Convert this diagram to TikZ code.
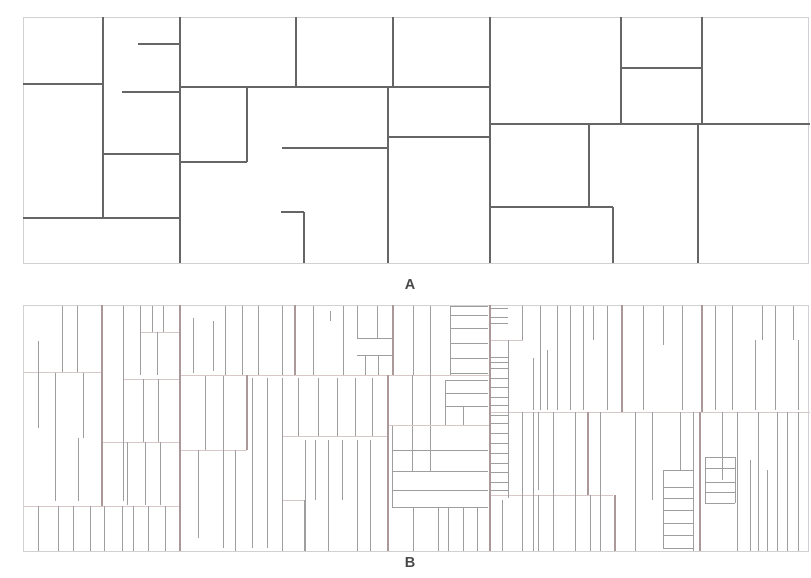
\documentclass[tikz,border=0pt]{standalone}
\usepackage{fontspec}
\setsansfont{Liberation Sans}
\begin{document}
\begin{tikzpicture}[x=1pt,y=-1pt,
  bord/.style={draw=black!18,line width=0.8pt},
  al/.style={draw=black!60,line width=1.3pt},
  bl/.style={draw=black!38,line width=0.7pt},
  bk/.style={draw=black!30!red!25!black!40,line width=1.9pt},
  bp/.style={draw=red!30!black!22,line width=0.8pt},
  lab/.style={font=\sffamily\bfseries\fontsize{14.5}{14.5}\selectfont,text=black!72,inner sep=0pt}]
\useasboundingbox (0,0) rectangle (811,578);
\fill[white] (0,0) rectangle (811,578);
% ---------------- Panel A ----------------
\draw[bord] (23,17) rectangle (808,263);
\foreach \xa/\ya/\xb/\yb in {
 103/17/103/218, 23/84/103/84, 138/44/180/44, 122/92/180/92, 103/154/180/154,
 23/218/180/218, 180/17/180/263, 296/17/296/87, 180/87/490/87, 247/87/247/162,
 180/162/247/162, 282/148/388/148, 388/87/388/263, 393/17/393/87, 388/137/490/137,
 281/212/304/212, 304/212/304/263, 490/17/490/263, 621/17/621/124, 621/68/702/68,
 702/17/702/124, 490/124/810/124, 698/124/698/263, 589/124/589/207, 490/207/613/207,
 613/207/613/263}
  \draw[al] (\xa,\ya) -- (\xb,\yb);
\node[lab] (labA) at (410,285) {A};
% ---------------- Panel B ----------------
\draw[bord] (23,305) rectangle (808,551);
% partition lines (light pink)
\foreach \xa/\ya/\xb/\yb in {
 23/372/103/372, 140/332/180/332, 123/379/180/379, 103/442/180/442, 23/506/180/506,
 180/375/490/375, 180/450/247/450, 282/436/388/436, 282/500/304/500, 388/425/490/425,
 490/412/810/412, 490/495/613/495, 490/340/523/340}
  \draw[bp] (\xa,\ya) -- (\xb,\yb);
% thin verticals
\foreach \x/\a/\b in {
 38/341/428, 62/306/372, 77/306/372, 55/373/501, 83/373/438, 78/438/501,
 38/506/551, 58/506/551, 73/506/551, 90/506/551, 104/506/551, 122/506/551, 133/506/551, 148/506/551, 165/506/551,
 123/306/501, 140/306/375, 152/306/332, 163/306/332, 157/332/375, 143/379/442, 158/379/442, 127/442/505, 145/442/505, 160/442/505,
 193/318/373, 213/321/371, 225/306/375, 242/306/375, 258/306/375, 282/306/375,
 205/376/450, 223/376/450, 198/450/538, 223/450/548, 235/450/551,
 252/378/548, 267/378/548, 282/378/551, 298/378/436, 318/378/436, 337/378/436, 355/378/436, 372/378/436,
 305/440/551, 315/440/500, 328/440/551, 342/440/500, 357/440/551, 370/440/551, 304/500/551,
 313/306/375, 343/306/375, 357/306/338, 377/306/338, 330/311/321, 365/355/375, 378/355/375,
 413/306/375, 430/306/375, 450/306/375,
 412/375/425, 430/375/425, 445/380/425, 463/406/425,
 412/426/471, 430/426/471, 392/426/507,
 413/507/551, 438/507/551, 448/507/551, 463/507/551, 477/507/551,
 508/340/498, 522/306/340, 533/358/410,
 540/306/410, 547/350/410, 557/306/410, 570/306/410, 583/306/410, 593/306/340, 607/306/410, 643/306/410, 663/306/345,
 682/306/410, 715/306/410, 732/306/410, 755/340/410, 762/306/340, 775/306/410, 793/306/340, 798/340/410,
 502/500/551, 522/412/551, 533/412/551, 538/412/490, 553/412/551, 575/412/551, 600/412/495, 635/412/551, 652/412/500,
 538/495/551, 590/495/551, 600/495/551,
 680/412/470, 663/470/548, 693/412/551, 705/457/503, 735/457/503, 722/412/480, 737/412/551, 750/460/551, 758/412/551,
 767/470/551, 777/412/551, 787/412/551, 798/412/551}
  \draw[bl] (\x,\a) -- (\x,\b);
% hatching
\foreach \y in {306,315,328,343,358,373} \draw[bl] (450,\y) -- (488,\y);
\foreach \y in {380,393,406} \draw[bl] (445,\y) -- (488,\y);
\foreach \y in {450,471,490,507} \draw[bl] (392,\y) -- (488,\y);
\draw[bl] (357,338) -- (393,338);
\draw[bl] (357,355) -- (393,355);
\foreach \y in {308,317,323,357,362,368,378,387,397,405,415,423,433,443,453,463,472,482,490} \draw[bl] (490,\y) -- (508,\y);
\foreach \y in {470,487,498,510,523,535,548} \draw[bl] (663,\y) -- (693,\y);
\foreach \y in {457,468,482,492,503} \draw[bl] (705,\y) -- (735,\y);
% thick verticals
\foreach \x/\a/\b in {
 102/305/506, 180/305/551, 295/305/375, 393/305/375, 388/375/551, 490/305/551,
 622/305/412, 702/305/412, 247/375/450, 588/412/495, 615/495/551, 700/412/551}
  \draw[bk] (\x,\a) -- (\x,\b);
\node[lab] (labB) at (410,563) {B};
\end{tikzpicture}
\end{document}
